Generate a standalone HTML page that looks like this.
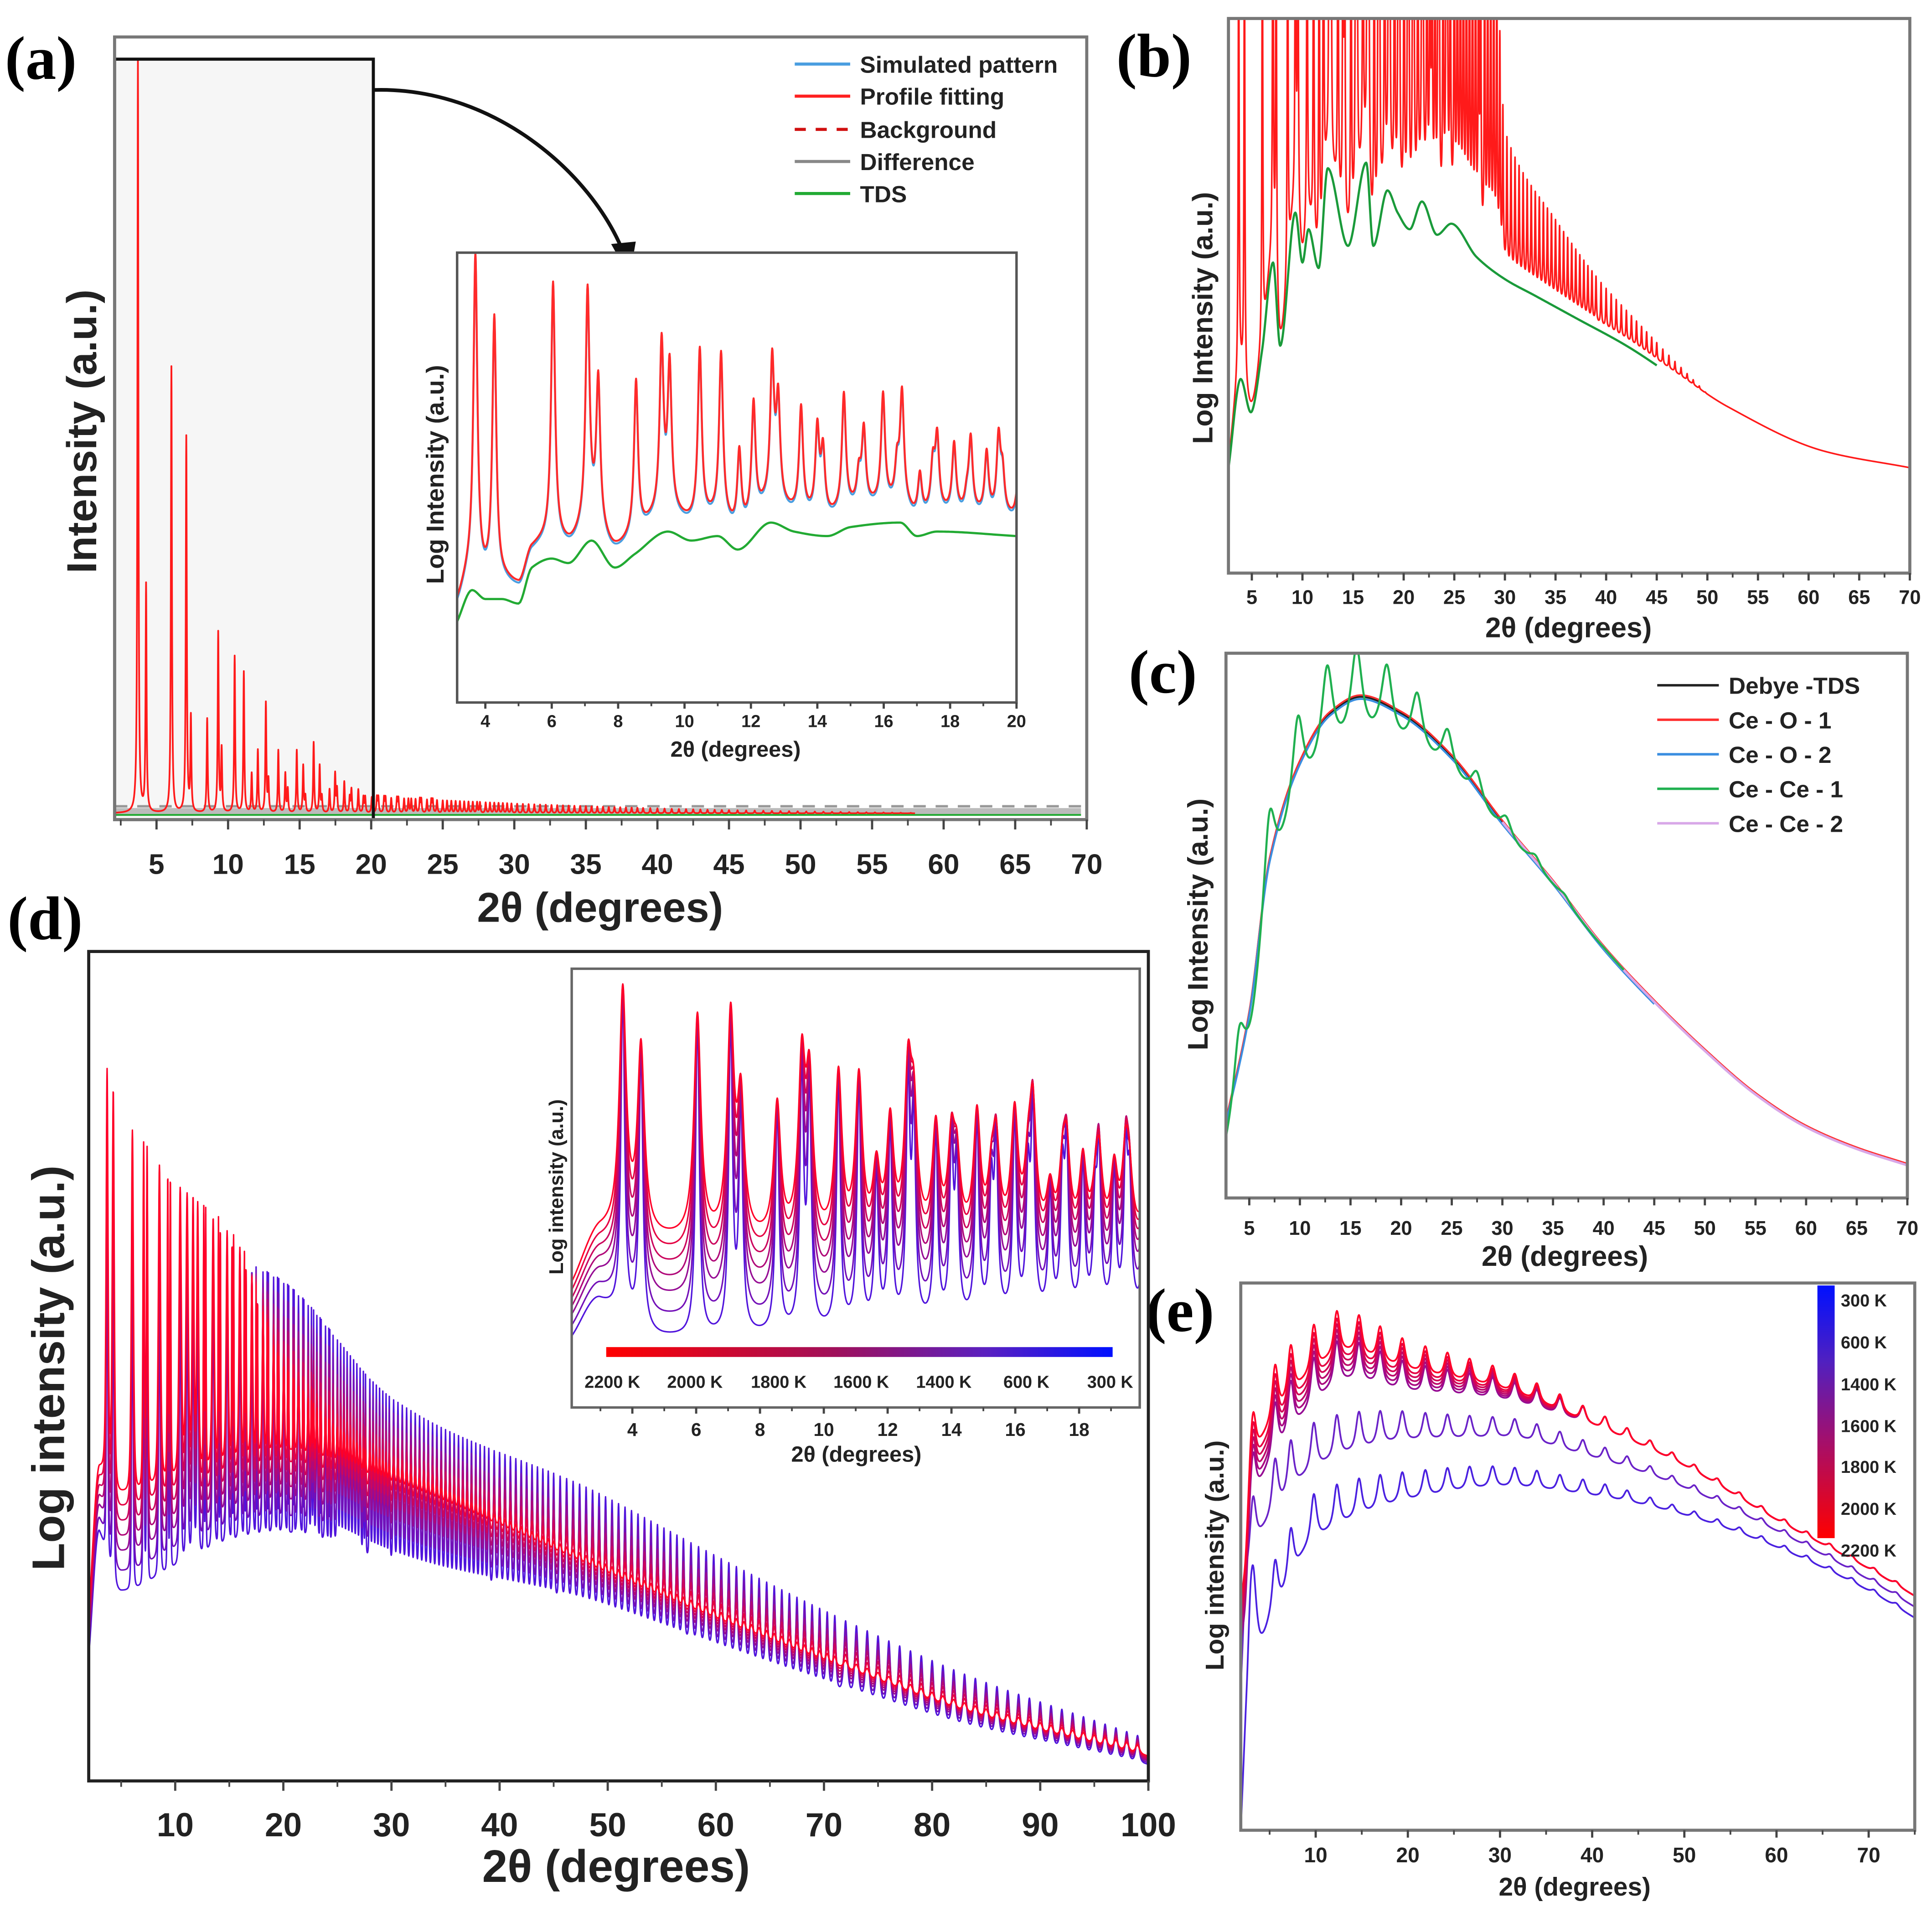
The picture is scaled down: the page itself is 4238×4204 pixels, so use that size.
<!DOCTYPE html>
<html><head><meta charset="utf-8"><style>
html,body{margin:0;padding:0;background:#fff;}
svg{display:block;}
text{font-family:"Liberation Sans",sans-serif;font-weight:bold;fill:#222;}
.let{font-family:"Liberation Serif",serif;font-weight:bold;fill:#000;}
</style></head><body>
<svg id="fig" width="4238" height="4204" viewBox="0 0 1568 1555.4" preserveAspectRatio="none" xmlns="http://www.w3.org/2000/svg">
<defs>
<clipPath id="clA"><rect x="93" y="30" width="789" height="635"/></clipPath>
<clipPath id="clAi"><rect x="371" y="205" width="454" height="365"/></clipPath>
<clipPath id="clB"><rect x="997" y="15" width="553" height="450"/></clipPath>
<clipPath id="clC"><rect x="995" y="530" width="553" height="442"/></clipPath>
<clipPath id="clD"><rect x="72" y="772" width="860" height="673"/></clipPath>
<clipPath id="clDi"><rect x="464" y="786" width="461" height="356"/></clipPath>
<clipPath id="clE"><rect x="1007" y="1041" width="547" height="444"/></clipPath>
<linearGradient id="gH" x1="0" x2="1" y1="0" y2="0"><stop offset="0" stop-color="#ff0000"/><stop offset="0.45" stop-color="#a0105a"/><stop offset="0.75" stop-color="#5a20c0"/><stop offset="1" stop-color="#0010ff"/></linearGradient>
<linearGradient id="gV" x1="0" x2="0" y1="0" y2="1"><stop offset="0" stop-color="#0010ff"/><stop offset="0.3" stop-color="#5020c0"/><stop offset="0.6" stop-color="#a01070"/><stop offset="1" stop-color="#ff0000"/></linearGradient>
</defs>
<text class="let" x="4" y="64" font-size="50">(a)</text>
<text class="let" x="906" y="62" font-size="50">(b)</text>
<text class="let" x="916" y="562" font-size="50">(c)</text>
<text class="let" x="6" y="762" font-size="50">(d)</text>
<text class="let" x="930" y="1080" font-size="50">(e)</text>

<rect x="93" y="48" width="210" height="617" fill="#f6f6f6"/>
<g id="gA" clip-path="url(#clA)"></g>
<rect x="93" y="48" width="210" height="617" fill="none" stroke="#111" stroke-width="2.5"/>
<rect x="93" y="30" width="789" height="635" fill="none" stroke="#777" stroke-width="2.5"/>
<path d="M303,73 C400,70 480,140 506,205" fill="none" stroke="#111" stroke-width="3"/>
<polygon points="496,198 516,196 511,225" fill="#111"/>
<g>
<line x1="645" y1="52" x2="690" y2="52" stroke="#4a9ee0" stroke-width="2.5"/><text x="698" y="59" font-size="19">Simulated pattern</text>
<line x1="645" y1="78" x2="690" y2="78" stroke="#ff2020" stroke-width="2.5"/><text x="698" y="85" font-size="19">Profile fitting</text>
<line x1="645" y1="105" x2="690" y2="105" stroke="#d01010" stroke-width="2.5" stroke-dasharray="9,8"/><text x="698" y="112" font-size="19">Background</text>
<line x1="645" y1="131" x2="690" y2="131" stroke="#888" stroke-width="2.5"/><text x="698" y="138" font-size="19">Difference</text>
<line x1="645" y1="157" x2="690" y2="157" stroke="#22aa33" stroke-width="2.5"/><text x="698" y="164" font-size="19">TDS</text>
</g>
<rect x="371" y="205" width="454" height="365" fill="#fff"/>
<g id="gAi" clip-path="url(#clAi)"></g>
<rect x="371" y="205" width="454" height="365" fill="none" stroke="#555" stroke-width="2"/>
<text transform="translate(78,350) rotate(-90)" text-anchor="middle" font-size="34">Intensity (a.u.)</text>
<text x="487" y="748" text-anchor="middle" font-size="34">2θ (degrees)</text>
<text transform="translate(360,385) rotate(-90)" text-anchor="middle" font-size="20">Log Intensity (a.u.)</text>
<text x="597" y="614" text-anchor="middle" font-size="18">2θ (degrees)</text>

<g id="gB" clip-path="url(#clB)"></g>
<rect x="997" y="15" width="553" height="450" fill="none" stroke="#777" stroke-width="2.5"/>
<text transform="translate(984,258) rotate(-90)" text-anchor="middle" font-size="23">Log Intensity (a.u.)</text>
<text x="1273" y="517" text-anchor="middle" font-size="23">2θ (degrees)</text>

<g id="gC" clip-path="url(#clC)"></g>
<rect x="995" y="530" width="553" height="442" fill="none" stroke="#777" stroke-width="2.5"/>
<g>
<line x1="1345" y1="556" x2="1395" y2="556" stroke="#222" stroke-width="2"/><text x="1403" y="563" font-size="19">Debye -TDS</text>
<line x1="1345" y1="584" x2="1395" y2="584" stroke="#ff3030" stroke-width="2"/><text x="1403" y="591" font-size="19">Ce - O - 1</text>
<line x1="1345" y1="612" x2="1395" y2="612" stroke="#3a8ee0" stroke-width="2"/><text x="1403" y="619" font-size="19">Ce - O - 2</text>
<line x1="1345" y1="640" x2="1395" y2="640" stroke="#20b050" stroke-width="2"/><text x="1403" y="647" font-size="19">Ce - Ce - 1</text>
<line x1="1345" y1="668" x2="1395" y2="668" stroke="#d8a8e8" stroke-width="2"/><text x="1403" y="675" font-size="19">Ce - Ce - 2</text>
</g>
<text transform="translate(980,750) rotate(-90)" text-anchor="middle" font-size="23">Log Intensity (a.u.)</text>
<text x="1270" y="1027" text-anchor="middle" font-size="23">2θ (degrees)</text>

<g id="gD" clip-path="url(#clD)"></g>
<rect x="72" y="772" width="860" height="673" fill="none" stroke="#222" stroke-width="2.5"/>
<rect x="464" y="786" width="461" height="356" fill="#fff"/>
<g id="gDi" clip-path="url(#clDi)"></g>
<rect x="464" y="786" width="461" height="356" fill="none" stroke="#666" stroke-width="2"/>
<rect x="492" y="1093" width="411" height="8" fill="url(#gH)"/>
<g>
<text x="497" y="1126" text-anchor="middle" font-size="14">2200 K</text><text x="564" y="1126" text-anchor="middle" font-size="14">2000 K</text><text x="632" y="1126" text-anchor="middle" font-size="14">1800 K</text><text x="699" y="1126" text-anchor="middle" font-size="14">1600 K</text><text x="766" y="1126" text-anchor="middle" font-size="14">1400 K</text><text x="833" y="1126" text-anchor="middle" font-size="14">600 K</text><text x="901" y="1126" text-anchor="middle" font-size="14">300 K</text>
</g>
<text transform="translate(52,1110) rotate(-90)" text-anchor="middle" font-size="37">Log intensity (a.u.)</text>
<text x="500" y="1527" text-anchor="middle" font-size="37">2θ (degrees)</text>
<text transform="translate(457,963) rotate(-90)" text-anchor="middle" font-size="16">Log intensity (a.u.)</text>
<text x="695" y="1186" text-anchor="middle" font-size="18">2θ (degrees)</text>

<g id="gE" clip-path="url(#clE)"></g>
<rect x="1007" y="1041" width="547" height="444" fill="none" stroke="#777" stroke-width="2.5"/>
<rect x="1475" y="1043" width="14" height="205" fill="url(#gV)"/>
<g>
<text x="1494" y="1060" font-size="14">300 K</text><text x="1494" y="1094" font-size="14">600 K</text><text x="1494" y="1128" font-size="14">1400 K</text><text x="1494" y="1162" font-size="14">1600 K</text><text x="1494" y="1195" font-size="14">1800 K</text><text x="1494" y="1229" font-size="14">2000 K</text><text x="1494" y="1263" font-size="14">2200 K</text>
</g>
<text transform="translate(993,1262) rotate(-90)" text-anchor="middle" font-size="21">Log intensity (a.u.)</text>
<text x="1278" y="1538" text-anchor="middle" font-size="21">2θ (degrees)</text>
</svg>
<script>
// ---- shared data ----
const peakPos=[3.70,4.27,6.04,7.08,7.40,8.54,9.31,9.55,10.46,11.10,11.65,12.08,12.64,12.82,13.51,14.0,14.17,14.8,15.25,15.4,15.98,16.4,16.55,17.09,17.48,17.61,18.12,18.5,18.62,19.1,19.46,19.58,20.04,20.4,20.5,20.9,21.0,21.4,21.8,21.9,22.3,22.6,22.8,23.1,23.4,23.5,23.9,24.2,24.3,24.6,25.0,25.3,25.6,25.9,26.2,26.5,26.8,27.1,27.4,27.6,28.0,28.3,28.6,28.9,29.2,29.5,29.8,30.2,30.6,31.0,31.4,31.8,32.2,32.6,33.0,33.4,33.8,34.2,34.6,35.0,35.4,35.8,36.2,36.6,37.0,37.4,37.8,38.2,38.6,39.0,39.5,40.0,40.5,41.0,41.5,42.0,42.5,43.0,43.5,44.0,44.5,45.0,45.6,46.2,46.8,47.4,48.0,48.6,49.2,49.8,50.4,51,51.6,52.2,52.8,53.4,54,54.6,55.2,55.8,56.4,57,57.7,58.4,59.1,59.8,60.5,61.2,61.9,62.6,63.3,64,64.7,65.4,66.1,66.8,67.5,68.2,68.9,69.6,70.3,71,72,73,74,75,76,77,78,79,80,81,82,83,84,85,86,87,88,89,90,91,92,93,94,95,96,97,98,99];
// panel a main (linear)
const aMainH=[0.96,0.29,0.57,0.48,0.12,0.12,0.23,0.08,0.2,0.18,0.05,0.08,0.14,0.04,0.08,0.05,0.03,0.08,0.06,0.02,0.09,0.06,0.02,0.03,0.05,0.03,0.04,0.02,0.03,0.03,0.02,0.02];
const aMainEnvX=[20,30,45,60],aMainEnvY=[0.02,0.012,0.004,0];
// inset a
const aInTdsX=[3.15,3.6,4.0,4.5,5.0,5.4,6.0,6.5,7.2,7.9,8.5,9.5,10.2,11.0,11.6,12.6,13.3,14.3,15.0,16.5,17.0,17.6,20];
const aInTdsY=[0.18,0.25,0.23,0.23,0.22,0.3,0.32,0.31,0.36,0.3,0.33,0.38,0.36,0.37,0.34,0.4,0.38,0.37,0.39,0.4,0.37,0.38,0.37];
const aInTops=[0.99,0.85,0.93,0.91,0.71,0.71,0.79,0.74,0.78,0.77,0.55,0.66,0.75,0.66,0.65,0.6,0.55,0.68,0.5,0.6,0.68,0.52,0.68,0.5,0.52,0.58,0.57,0.45,0.58,0.55,0.58,0.5,0.48];
// panel b
const bTdsX=[2.7,3.9,4.9,6.0,7.1,7.8,9.3,10,10.6,11.6,12.5,14.5,16.3,17,18.4,19.4,20.6,21.8,23.3,24.7,27.2,30,33,37,42,47,52,61.5,70];
const bTdsY=[0.19,0.35,0.29,0.4,0.56,0.41,0.65,0.56,0.62,0.55,0.73,0.59,0.74,0.59,0.69,0.65,0.62,0.67,0.61,0.63,0.57,0.53,0.5,0.46,0.41,0.35,0.29,0.21,0.18];
const bEnvX=[3,10,20,29,30,35,40,45,50],bEnvY=[0.9,0.7,0.6,0.55,0.24,0.14,0.07,0.03,0];
// panel c
const cDebX=[2.7,5,7,10,13,16,20,25,30,35,40,45,50,55,60,65,70];
const cDebY=[0.14,0.34,0.62,0.8,0.89,0.92,0.89,0.81,0.69,0.58,0.46,0.36,0.27,0.19,0.13,0.09,0.06];
const cOscPos=[1.0,4.0,7.0,9.8,12.7,15.6,18.6,21.6,24.6,27.5,30.4,33.3,36.2];
const cOscAmpX=[2.7,8,15,20,25,30,35,40],cOscAmpY=[0.12,0.18,0.18,0.13,0.08,0.04,0.015,0];
// panel d
const dTemps=[1,0.8,0.6,0.45,0.3,0.15,0];
const dBaseX=[2,3,5,10,20,30,36,50,61,71,84,100];
const dBaseY=[0.2,0.38,0.35,0.37,0.40,0.36,0.33,0.25,0.19,0.14,0.08,0.03];
const dDipX=[2,5,15,30,50,70,90,100],dDipY=[0.05,0.12,0.1,0.1,0.05,0.03,0.015,0.01];
const dRedEnvX=[3,10,16,20,25,30,40],dRedEnvY=[0.5,0.35,0.25,0.1,0.04,0.02,0.01];
const dBlueEnvX=[3,10,20,30,50,70,85,100],dBlueEnvY=[0.5,0.38,0.3,0.2,0.14,0.09,0.06,0.03];
// inset d
const diBaseX=[2.1,3,5,10,20],diBaseY=[0.28,0.4,0.38,0.37,0.37];
const diDipX=[2.1,5,10,15,20],diDipY=[0.12,0.22,0.2,0.18,0.16];
const diTopScale=[0.95];
// panel e
const eTopX=[1.9,2.3,3,5,10,13,20,30,40,50,60,70,75];
const eTopY=[0.45,0.5,0.68,0.77,0.87,0.9,0.86,0.82,0.75,0.67,0.57,0.48,0.43];
const eLow1X=[1.9,2.5,5,10,15,20,30,40,50,60,70,75],eLow1Y=[0.3,0.5,0.6,0.69,0.72,0.73,0.73,0.69,0.63,0.55,0.46,0.41];
const eLow2X=[1.9,2.5,3,4,5,10,20,30,40,50,60,70,75],eLow2Y=[0.04,0.27,0.42,0.38,0.41,0.56,0.62,0.64,0.62,0.58,0.52,0.44,0.39];
const eRedOffsets=[0,-0.02,-0.035,-0.05,-0.065,-0.08];
const eOscPos=[3.2,5.6,7.3,9.8,12.3,14.7,17.0,19.4,21.9,24.3,26.7,29.2,31.6,34.0,36.5,39.0,41.4,43.8,46.3,48.7,51.1,53.6,56.0,58.4,60.9,63.3,65.8,68.2,70.6,73.0];
const eOscX=[2,10,20,30,40,50,75],eOscY=[0.1,0.08,0.05,0.035,0.025,0.012,0.006];

// ---- helpers ----
function interp(xs,ys,x){
 const n=xs.length;if(x<=xs[0])return ys[0];if(x>=xs[n-1])return ys[n-1];
 let i=1;while(xs[i]<x)i++;
 const x0=xs[i-1],x1=xs[i],y0=ys[i-1],y1=ys[i],h=x1-x0;
 const sl=k=>(ys[k+1]-ys[k])/(xs[k+1]-xs[k]);
 const m=k=>{if(k<=0)return sl(0);if(k>=n-1)return sl(n-2);const a=sl(k-1),b=sl(k);if(a*b<=0)return 0;return 2/(1/a+1/b);};
 const m0=m(i-1),m1=m(i),t=(x-x0)/h,t2=t*t,t3=t2*t;
 return (2*t3-3*t2+1)*y0+(t3-2*t2+t)*h*m0+(-2*t3+3*t2)*y1+(t3-t2)*h*m1;}
function lor(x,p,w){const d=(x-p)/w;return 1/(1+d*d);}
function pk(x,p,w){const d=(x-p)/w;if(d>14||d<-14)return 0;const q=1/(1+d*d);return q*q;}
// nearest-neighbour gap for each peak (derived from peakPos)
const peakGap=peakPos.map((p,i)=>Math.min(i>0?p-peakPos[i-1]:9,i<peakPos.length-1?peakPos[i+1]-p:9));
function axis(px0,px1,py0,py1,xmin,xmax){return{sx:x=>px0+(x-xmin)/(xmax-xmin)*(px1-px0),sy:f=>py1-f*(py1-py0),xmin,xmax};}
const NS="http://www.w3.org/2000/svg";
function path(g,ax,fn,x0,x1,step,color,width,name,opacity){
 let d="";for(let x=x0;x<=x1+1e-9;x+=step){const X=ax.sx(x),Y=ax.sy(fn(x));d+=(d?"L":"M")+X.toFixed(2)+","+Y.toFixed(2);}
 const p=document.createElementNS(NS,"path");p.setAttribute("d",d);p.setAttribute("fill","none");p.setAttribute("stroke",color);p.setAttribute("stroke-width",width);p.setAttribute("stroke-linejoin","round");if(opacity)p.setAttribute("stroke-opacity",opacity);
 
 
 document.getElementById(g).appendChild(p);return p;}
function ticks(ax,y,vals,len,fs,ly,name,minor){
 const svg=document.getElementById("fig");
 const g=document.createElementNS(NS,"g");
 
 
 vals.forEach(v=>{const X=ax.sx(v);const l=document.createElementNS(NS,"line");l.setAttribute("x1",X);l.setAttribute("x2",X);l.setAttribute("y1",y);l.setAttribute("y2",y+len);l.setAttribute("stroke","#444");l.setAttribute("stroke-width",1.8);g.appendChild(l);
  const t=document.createElementNS(NS,"text");t.setAttribute("x",X);t.setAttribute("y",ly);t.setAttribute("text-anchor","middle");t.setAttribute("font-size",fs);t.textContent=v;g.appendChild(t);});
 (minor||[]).forEach(v=>{const X=ax.sx(v);if(v<ax.xmin||v>ax.xmax)return;const l=document.createElementNS(NS,"line");l.setAttribute("x1",X);l.setAttribute("x2",X);l.setAttribute("y1",y);l.setAttribute("y2",y+len*0.6);l.setAttribute("stroke","#444");l.setAttribute("stroke-width",1.4);g.appendChild(l);});
 svg.appendChild(g);}
function range(a,b,s){const r=[];for(let v=a;v<=b+1e-9;v+=s)r.push(Math.round(v*100)/100);return r;}
function mixColor(t){const r=Math.round(255*(1-t)+80*t),g=Math.round(0+20*t),b=Math.round(40*(1-t)+220*t);return "rgb("+r+","+g+","+b+")";}

// ---- panel a main ----
const axA=axis(93,882,30,665,2.07,70);
path("gA",axA,x=>0.01,2.1,70,0.5,"#bbb",6,"difference-band");
path("gA",axA,x=>0.017,2.1,70,0.5,"#999",2,"background-line").setAttribute("stroke-dasharray","10,8");
path("gA",axA,x=>{let s=0.008;peakPos.forEach((p,i)=>{const h=i<aMainH.length?aMainH[i]:interp(aMainEnvX,aMainEnvY,p);s+=h*lor(x,p,0.04);});return s;},2.1,58,0.01,"#ff1a1a",1.4,"profile-fitting-main");
path("gA",axA,x=>0.006,2.1,70,0.5,"#22aa33",1.5,"tds-main");
ticks(axA,665,range(5,70,5),8,23,709,"x-ticks-a",range(2.5,70,2.5));
// ---- inset a ----
const axAi=axis(371,825,205,570,3.15,20);
const aInFn=x=>{const b=interp(aInTdsX,aInTdsY,x);let s=b+0.04;peakPos.forEach((p,i)=>{if(i<aInTops.length){s+=(aInTops[i]-b-0.04)*lor(x,p,0.07);}});return s;};
path("gAi",axAi,x=>aInFn(x)-0.006,3.15,20,0.01,"#4a9ee0",1.6,"simulated-pattern-inset");
path("gAi",axAi,aInFn,3.15,20,0.01,"#ff2a2a",1.6,"profile-fitting-inset");
path("gAi",axAi,x=>interp(aInTdsX,aInTdsY,x),3.15,20,0.05,"#22aa33",1.8,"tds-inset");
ticks(axAi,570,range(4,20,2),5,14,590,"x-ticks-inset-a",range(5,19,2));
// ---- panel b ----
const axB=axis(997,1550,15,465,2.69,70);
const bTds=x=>interp(bTdsX,bTdsY,x);
path("gB",axB,x=>{let s=bTds(x)+0.01;peakPos.forEach(p=>{s+=interp(bEnvX,bEnvY,p)*lor(x,p,0.05);});return s;},2.7,70,0.01,"#ff1a1a",1.3,"profile-fitting-b");
path("gB",axB,bTds,2.7,45,0.05,"#1a9a3a",1.8,"tds-b");
ticks(axB,465,range(5,70,5),6,16,490,"x-ticks-b",range(2.5,70,2.5));
// ---- panel c ----
const axC=axis(995,1548,530,972,2.7,70);
const cDeb=x=>interp(cDebX,cDebY,x);
path("gC",axC,cDeb,2.7,70,0.1,"#222",1.6,"debye-tds");
path("gC",axC,x=>cDeb(x)+0.003,2.7,70,0.1,"#ff3030",1.4,"ce-o-1");
path("gC",axC,x=>cDeb(x)-0.004,2.7,45,0.1,"#3a8ee0",1.6,"ce-o-2");
path("gC",axC,cDeb,30,70,0.1,"#d8a8e8",2,"ce-ce-2");
path("gC",axC,x=>{let s=0;cOscPos.forEach(p=>{s+=lor(x,p,0.7);});return cDeb(x)+interp(cOscAmpX,cOscAmpY,x)*(s-0.65);},2.7,42,0.04,"#20b050",1.7,"ce-ce-1");
ticks(axC,972,range(5,70,5),6,16,1002,"x-ticks-c",range(2.5,70,2.5));
// ---- panel d ----
const axD=axis(72,932,772,1445,2.0,100);
dTemps.forEach((t,k)=>{
 path("gD",axD,x=>{const b=interp(dBaseX,dBaseY,x)-t*interp(dDipX,dDipY,x);let s=b;peakPos.forEach((p,i)=>{const e=(1-t)*interp(dRedEnvX,dRedEnvY,p)+t*interp(dBlueEnvX,dBlueEnvY,p);const w=Math.min((0.14-0.05*t)*(1+p/30),(0.34-0.08*t)*peakGap[i]);s+=e*pk(x,p,w);});return s;},2,100,0.02,mixColor(t),1.2,"pattern-d-"+k);
});
ticks(axD,1445,range(10,100,10),8,27,1490,"x-ticks-d",range(5,100,5));
// ---- inset d ----
const axDi=axis(464,925,786,1142,2.1,19.9);
dTemps.forEach((t,k)=>{
 const w=0.13-0.06*t;
 path("gDi",axDi,x=>{const b=interp(diBaseX,diBaseY,x)-t*interp(diDipX,diDipY,x);let s=b;peakPos.forEach((p,i)=>{if(i<aInTops.length){const top=aInTops[i]*diTopScale[0];s+=(top-interp(diBaseX,diBaseY,p)+t*interp(diDipX,diDipY,p))*lor(x,p,w);}});return s;},2.1,19.9,0.01,mixColor(t),1.2,"pattern-inset-d-"+k);
});
ticks(axDi,1142,range(4,18,2),5,15,1165,"x-ticks-inset-d",range(3,19,2));
// ---- panel e ----
const axE=axis(1007,1554,1041,1485,1.87,75);
const eOsc=x=>{let s=0;eOscPos.forEach(p=>{s+=pk(x,p,0.55);});return interp(eOscX,eOscY,x)*(s-0.3);};
path("gE",axE,x=>interp(eLow2X,eLow2Y,x)+eOsc(x),1.9,75,0.05,"#4a20e0",1.4,"pattern-e-300K");
path("gE",axE,x=>interp(eLow1X,eLow1Y,x)+eOsc(x),1.9,75,0.05,"#6a22c8",1.4,"pattern-e-1400K");
eRedOffsets.slice().reverse().forEach((o,k)=>{
 const t=(-o)/0.08;
 path("gE",axE,x=>interp(eTopX,eTopY,x)+o*Math.max(0,1-x/40)+eOsc(x),1.9,75,0.05,mixColor(t*0.6),1.4,"pattern-e-red-"+k);
});
ticks(axE,1485,range(10,70,10),6,17,1511,"x-ticks-e",range(5,75,5));
</script>
</body></html>
